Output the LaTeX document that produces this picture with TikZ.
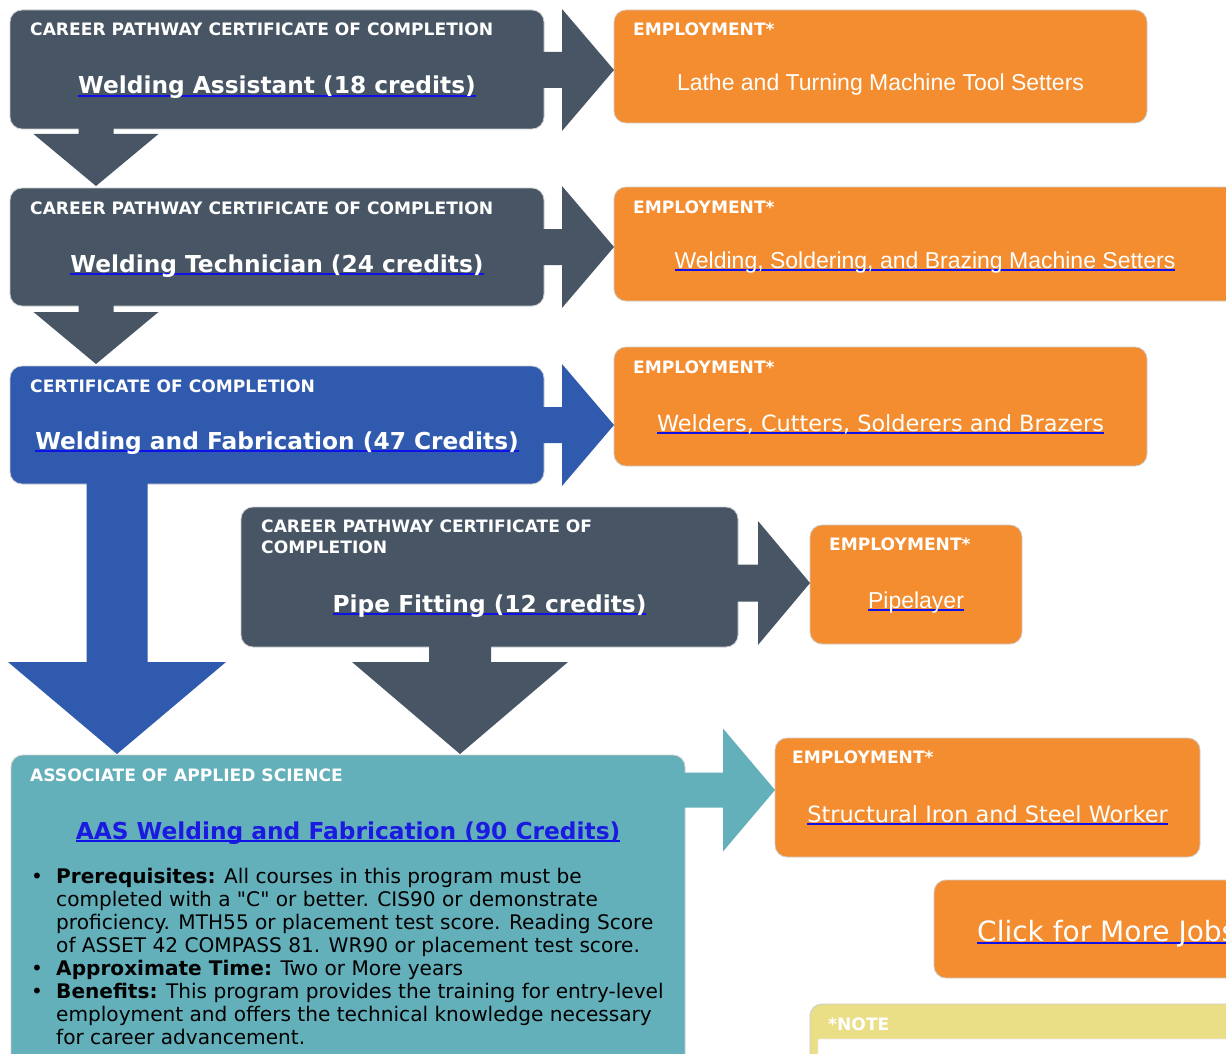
\documentclass[tikz,border=0pt]{standalone}
\usepackage{fontspec}
\setmainfont{DejaVu Sans}[Ligatures=TeXOff]
\newfontfamily\libsans{Liberation Sans}
\usetikzlibrary{calc}
\definecolor{slate}{HTML}{475565}
\definecolor{royal}{HTML}{2F5AAE}
\definecolor{teal}{HTML}{63AFBA}
\definecolor{orange}{HTML}{F48D30}
\definecolor{sand}{HTML}{EADE86}
\definecolor{ulblue}{HTML}{1010E8}
\definecolor{linkblue}{HTML}{1A1AE0}
\pgfdeclarelayer{bg}
\pgfsetlayers{bg,main}
\newsavebox\ulsave
\newcommand\linkul[1]{\sbox\ulsave{#1}\rlap{\color{ulblue}\rule[-2.7pt]{\wd\ulsave}{1.4pt}}\usebox\ulsave}
\newcommand\sq{{\char"22}}
% #1 colour, #2 start, #3 tip, #4 head length, #5 half head, #6 half shaft
\newcommand\blockright[6]{\fill[#1] ($(#2)+(0,-#6)$) -- ($(#3)+(-#4,-#6)$) -- ($(#3)+(-#4,-#5)$) -- (#3) -- ($(#3)+(-#4,#5)$) -- ($(#3)+(-#4,#6)$) -- ($(#2)+(0,#6)$) -- cycle;}
\newcommand\blockdown[6]{\fill[#1] ($(#2)+(-#6,0)$) -- ($(#3)+(-#6,-#4)$) -- ($(#3)+(-#5,-#4)$) -- (#3) -- ($(#3)+(#5,-#4)$) -- ($(#3)+(#6,-#4)$) -- ($(#2)+(#6,0)$) -- cycle;}
\tikzset{
  box/.style={rectangle, rounded corners=12pt, draw=black!20, line width=0.8pt, anchor=north west, inner sep=0pt, outer sep=0pt},
  head/.style={anchor=base west, inner sep=0pt, text=white, font=\bfseries\fontsize{17.1}{20}\selectfont},
  title/.style={anchor=base, inner sep=0pt, text=white, font=\bfseries\fontsize{23.3}{28}\selectfont},
  job/.style={anchor=base, inner sep=0pt, text=white, font=\fontsize{22.4}{27}\selectfont},
  jobl/.style={anchor=base, inner sep=0pt, text=white, font=\libsans\fontsize{23}{28}\selectfont},
  body/.style={anchor=base west, inner sep=0pt, text=black, font=\fontsize{20.1}{23}\selectfont},
}
\begin{document}
\begin{tikzpicture}[x=1pt,y=-1pt]
\useasboundingbox (0,0) rectangle (1226,1054);
\begin{pgfonlayer}{bg}
\fill[white] (0,0) rectangle (1226,1054);
\end{pgfonlayer}
\clip (0,0) rectangle (1226,1054);

% programme boxes
\node[box, fill=slate, minimum width=534pt, minimum height=119pt] (b1) at (10,10) {};
\node[head] (b1h) at ($(b1.north west)+(20,26)$) {CAREER PATHWAY CERTIFICATE OF COMPLETION};
\node[title] (b1t) at ($(b1.north)+(0,84)$) {\linkul{Welding Assistant (18 credits)}};

\node[box, fill=slate, minimum width=534pt, minimum height=118pt] (b2) at (10,188) {};
\node[head] (b2h) at ($(b2.north west)+(20,26)$) {CAREER PATHWAY CERTIFICATE OF COMPLETION};
\node[title] (b2t) at ($(b2.north)+(0,84)$) {\linkul{Welding Technician (24 credits)}};

\node[box, fill=royal, minimum width=534pt, minimum height=118pt] (b3) at (10,366) {};
\node[head] (b3h) at ($(b3.north west)+(20,26)$) {CERTIFICATE OF COMPLETION};
\node[title] (b3t) at ($(b3.north)+(0,83)$) {\linkul{Welding and Fabrication (47 Credits)}};

\node[box, fill=slate, minimum width=497pt, minimum height=140pt] (b4) at (241,507) {};
\node[head] (b4h) at ($(b4.north west)+(20,25)$) {CAREER PATHWAY CERTIFICATE OF};
\node[head] (b4h2) at ($(b4.north west)+(20,46)$) {COMPLETION};
\node[title] (b4t) at ($(b4.north)+(0,105)$) {\linkul{Pipe Fitting (12 credits)}};

\node[box, fill=teal, minimum width=674pt, minimum height=330pt] (b5) at (11,755) {};
\node[head] (b5h) at ($(b5.north west)+(19,26)$) {ASSOCIATE OF APPLIED SCIENCE};
\node[title, text=linkblue] (b5t) at ($(b5.north)+(0,84)$) {\linkul{AAS Welding and Fabrication (90 Credits)}};
\node[body] (bu1) at (31,883) {•};
\node[body] (bu2) at (31,975) {•};
\node[body] (bu3) at (31,998) {•};
\node[body] (l1) at (56,883) {\textbf{Prerequisites:} All courses in this program must be};
\node[body] (l2) at (56,906) {completed with a \sq C\sq{} or better. CIS90 or demonstrate};
\node[body] (l3) at (56,929) {proficiency. MTH55 or placement test score. Reading Score};
\node[body] (l4) at (56,952) {of ASSET 42 COMPASS 81. WR90 or placement test score.};
\node[body] (l5) at (56,975) {\textbf{Approximate Time:} Two or More years};
\node[body] (l6) at (56,998) {\textbf{Benefits:} This program provides the training for entry-level};
\node[body] (l7) at (56,1021) {employment and offers the technical knowledge necessary};
\node[body] (l8) at (56,1044) {for career advancement.};

% employment boxes
\node[box, fill=orange, minimum width=533pt, minimum height=113pt] (e1) at (614,10) {};
\node[head] (e1h) at ($(e1.north west)+(19,26)$) {EMPLOYMENT*};
\node[jobl] (e1t) at ($(e1.north)+(0,81)$) {Lathe and Turning Machine Tool Setters};

\node[box, fill=orange, minimum width=640pt, minimum height=114pt] (e2) at (614,187) {};
\node[head] (e2h) at ($(e2.north west)+(19,26)$) {EMPLOYMENT*};
\node[jobl] (e2t) at ($(e2.north west)+(311,81)$) {\linkul{Welding, Soldering, and Brazing Machine Setters}};

\node[box, fill=orange, minimum width=533pt, minimum height=119pt] (e3) at (614,347) {};
\node[head] (e3h) at ($(e3.north west)+(19,26)$) {EMPLOYMENT*};
\node[job] (e3t) at ($(e3.north)+(0,84)$) {\linkul{Welders, Cutters, Solderers and Brazers}};

\node[box, fill=orange, minimum width=212pt, minimum height=119pt] (e4) at (810,525) {};
\node[head] (e4h) at ($(e4.north west)+(19,25)$) {EMPLOYMENT*};
\node[jobl] (e4t) at ($(e4.north)+(0,83)$) {\linkul{Pipelayer}};

\node[box, fill=orange, minimum width=425pt, minimum height=119pt] (e5) at (775,738) {};
\node[head] (e5h) at ($(e5.north west)+(17,25)$) {EMPLOYMENT*};
\node[job] (e5t) at ($(e5.north)+(0,84)$) {\linkul{Structural Iron and Steel Worker}};

\node[box, fill=orange, minimum width=320pt, minimum height=98pt] (e6) at (934,880) {};
\node[job, anchor=base west, font=\fontsize{28}{34}\selectfont] (e6t) at ($(e6.north west)+(43,61)$) {\linkul{Click for More Jobs}};

\node[box, fill=sand, minimum width=450pt, minimum height=100pt] (note) at (810,1004) {};
\node[head] (noteh) at ($(note.north west)+(18,26)$) {*NOTE};
\node[box, rounded corners=2pt, fill=white, draw=black!8, minimum width=430pt, minimum height=60pt] (notein) at (818,1039) {};

% connectors (drawn over the box edges so that each shaft joins its box)
\coordinate (r1s) at ($(b1.east)+(-12,0.5)$);
\coordinate (r1t) at (r1s -| e1.west);
\coordinate (r2s) at ($(b2.east)+(-12,0)$);
\coordinate (r2t) at (r2s -| e2.west);
\coordinate (r3s) at ($(b3.east)+(-12,0)$);
\coordinate (r3t) at (r3s -| e3.west);
\coordinate (r4s) at ($(b4.east)+(-12,6)$);
\coordinate (r4t) at (r4s -| e4.west);
\coordinate (r5s) at ($(b5.north east)+(-12,35)$);
\coordinate (r5t) at (r5s -| e5.west);
\coordinate (d1s) at ($(b1.south west)+(86,-8)$);
\coordinate (d1t) at ($(d1s |- b2.north)+(0,-2)$);
\coordinate (d2s) at ($(b2.south west)+(86,-8)$);
\coordinate (d2t) at ($(d2s |- b3.north)+(0,-2)$);
\coordinate (d3s) at ($(b3.south west)+(107,-8)$);
\coordinate (d3t) at ($(d3s |- b5.north)+(0,-1)$);
\coordinate (d4s) at ($(b4.south west)+(219,-8)$);
\coordinate (d4t) at ($(d4s |- b5.north)+(0,-1)$);
\blockright{slate}{r1s}{r1t}{52}{61}{18}
\blockright{slate}{r2s}{r2t}{52}{61}{18}
\blockright{royal}{r3s}{r3t}{52}{61}{18}
\blockright{slate}{r4s}{r4t}{52}{62}{18.5}
\blockright{teal}{r5s}{r5t}{52}{61.5}{17.5}
\blockdown{slate}{d1s}{d1t}{52}{62.5}{17.5}
\blockdown{slate}{d2s}{d2t}{52}{62.5}{17.5}
\blockdown{royal}{d3s}{d3t}{92}{109}{30.5}
\blockdown{slate}{d4s}{d4t}{92}{108}{31}
\end{tikzpicture}
\end{document}
